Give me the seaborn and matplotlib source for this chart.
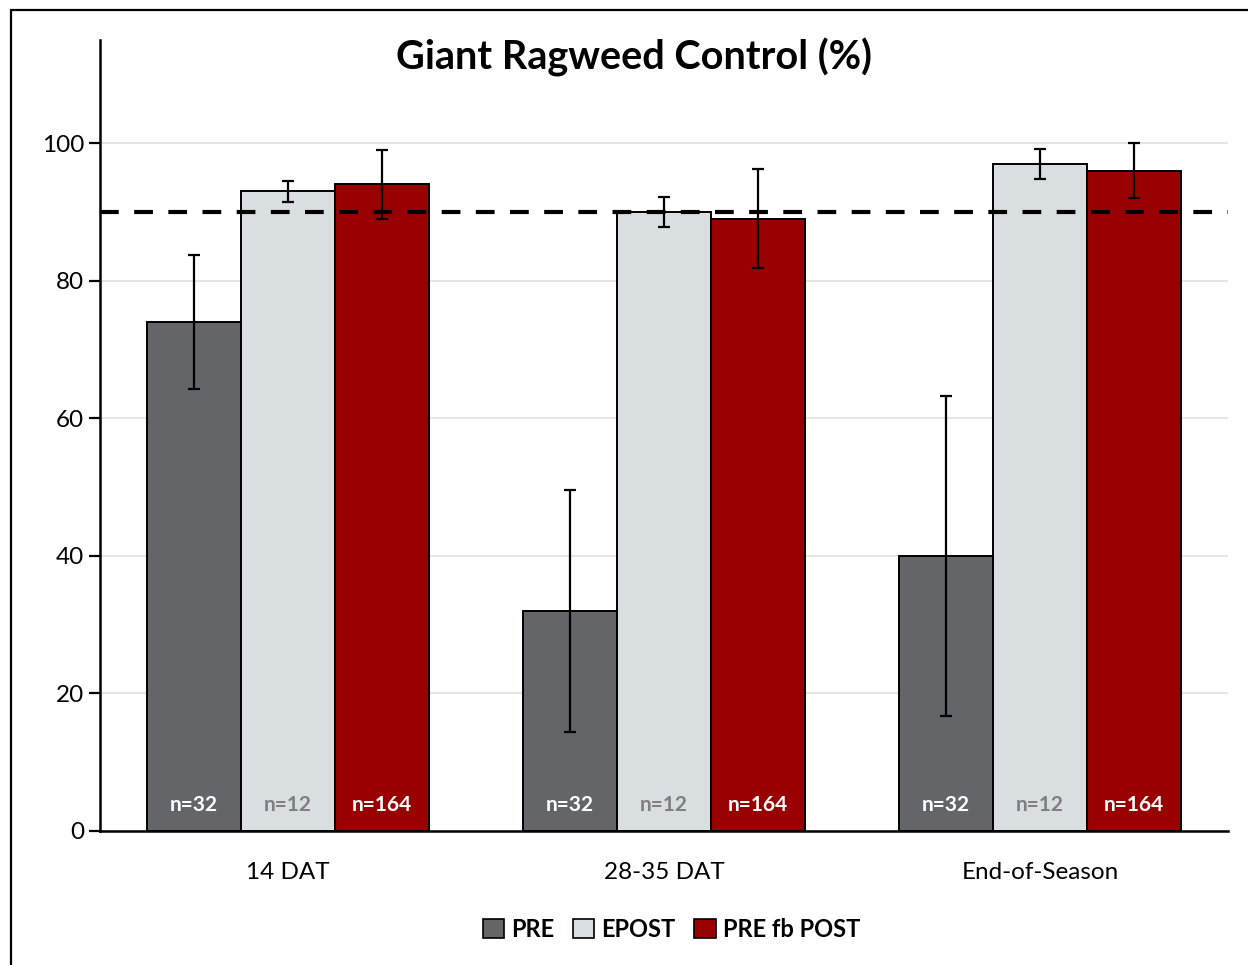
import pandas as pd
import seaborn as sns
import matplotlib.pyplot as plt
from matplotlib.patches import Patch, Rectangle

timings = ['14 DAT', '28-35 DAT', 'End-of-Season']
programs = ['PRE', 'EPOST', 'PRE fb POST']
pre = [74, 32, 40]
epost = [93, 90, 97]
pre_fb_post = [94, 89, 96]
pre_err = [9.8, 17.6, 23.3]
epost_err = [1.5, 2.2, 2.2]
pre_fb_post_err = [5.0, 7.2, 4.0]
n_labels = ['n=32', 'n=12', 'n=164']
threshold = 90

colors = ['#636569', '#D9DEE1', '#990000']
n_colors = ['white', '#7F7F7F', 'white']

df = pd.DataFrame({
    'timing': timings * 3,
    'program': [p for p in programs for _ in timings],
    'control': pre + epost + pre_fb_post,
    'err': pre_err + epost_err + pre_fb_post_err,
})

sns.set_style('white')
plt.rcParams['font.family'] = ['Lato', 'DejaVu Sans']
plt.rcParams['text.color'] = 'black'
plt.rcParams['xtick.color'] = 'black'
plt.rcParams['ytick.color'] = 'black'

fig = plt.figure(figsize=(12.48, 9.65), dpi=100)
ax = fig.add_axes([0.0801, 0.1389, 0.9039, 0.8197])

sns.barplot(data=df, x='timing', y='control', hue='program', order=timings,
            hue_order=programs, palette=colors, saturation=1, width=0.75, gap=0,
            edgecolor='black', linewidth=1.4, errorbar=None, ax=ax, zorder=3)

bar_conts = list(ax.containers)
for i, cont in enumerate(bar_conts):
    sub = df[df['program'] == programs[i]].set_index('timing').loc[timings]
    xs = [b.get_x() + b.get_width() / 2 for b in cont]
    ax.errorbar(xs, sub['control'], yerr=sub['err'], fmt='none', ecolor='black',
                elinewidth=1.6, capsize=4.5, capthick=1.6, zorder=5)
    for x in xs:
        ax.text(x, 3.8, n_labels[i], ha='center', va='center', fontsize=15,
                fontweight='bold', color=n_colors[i], zorder=6)

ax.axhline(threshold, color='black', linewidth=3, dashes=(4.5, 3.7), zorder=4)

ax.set_ylim(0, 115)
ax.set_xlim(-0.5, 2.5)
ax.set_yticks([0, 20, 40, 60, 80, 100])
ax.yaxis.grid(True, color='#E3E3E3', linewidth=1.3, zorder=0)
ax.set_axisbelow(True)
ax.set_xticks([-0.5, 0.5, 1.5, 2.5], minor=True)
ax.tick_params(axis='x', which='major', length=0, labelsize=17.5, pad=22)
ax.tick_params(axis='x', which='minor', length=8, width=1.6, color='black', direction='out')
ax.tick_params(axis='y', length=8, width=1.6, color='black', direction='out',
               labelsize=17.5, left=True)
for s in ['top', 'right']:
    ax.spines[s].set_visible(False)
for s in ['left', 'bottom']:
    ax.spines[s].set_color('black')
    ax.spines[s].set_linewidth(1.8)
ax.set_xlabel('')
ax.set_ylabel('')
ax.legend_.remove()

fig.text(0.508, 0.94, 'Giant Ragweed Control (%)', ha='center', va='center',
         fontsize=28.5, fontweight='bold')

handles = [Patch(facecolor=c, edgecolor='black', linewidth=1.2) for c in colors]
fig.legend(handles, programs, loc='center', bbox_to_anchor=(0.538, 0.037), ncol=3,
           frameon=False, prop={'weight': 'bold', 'size': 17},
           handlelength=0.9, handleheight=0.9, handletextpad=0.3, columnspacing=0.8)

fig.add_artist(Rectangle((11 / 1248, -0.05), 1.2, 0.05 + 1 - 10 / 965,
                         transform=fig.transFigure, fill=False,
                         edgecolor='black', linewidth=1.6))

fig.savefig('out.png', dpi=100)
